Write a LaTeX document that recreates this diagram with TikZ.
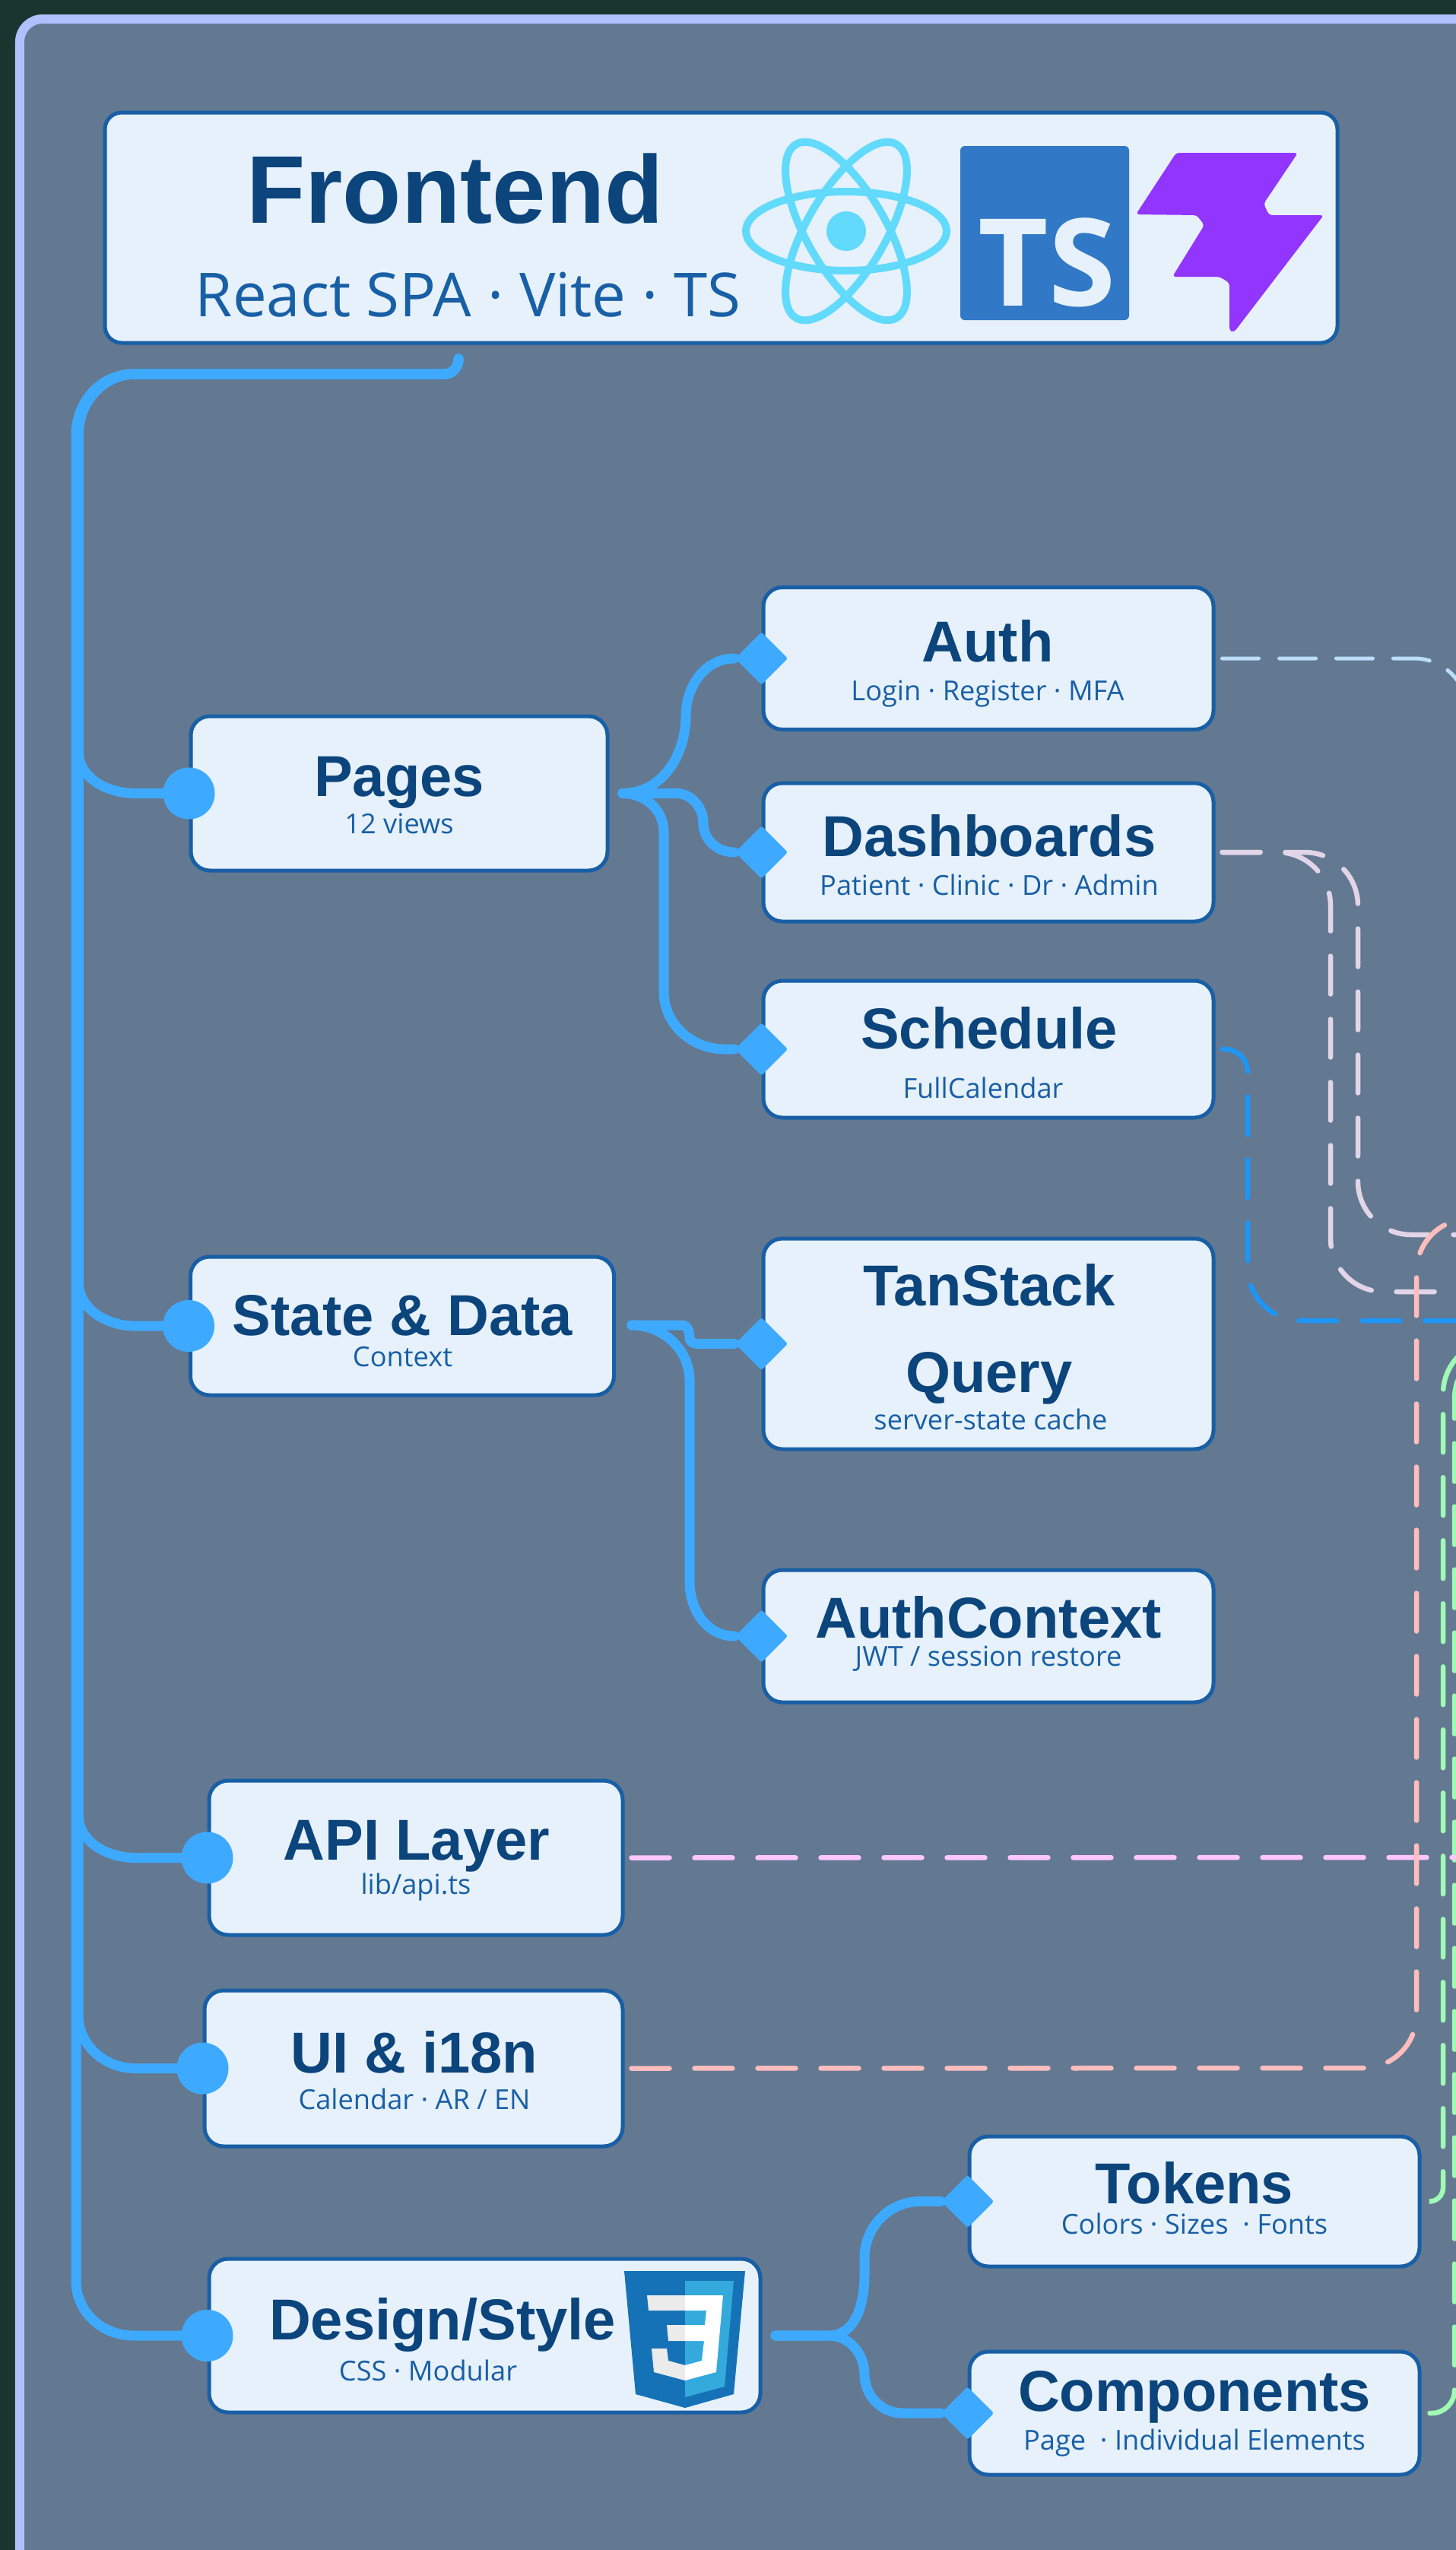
\documentclass[tikz,border=0pt]{standalone}
\usepackage{fontspec}
\setmainfont{Open Sans}
\newfontfamily\titlefont{Liberation Sans}
\usetikzlibrary{shapes.geometric}

\definecolor{pagebg}{HTML}{1A3530}
\definecolor{panelbg}{HTML}{637891}
\definecolor{panelrim}{HTML}{B0C0FF}
\definecolor{cardbg}{HTML}{E6F1FB}
\definecolor{cardrim}{HTML}{185FA5}
\definecolor{titleink}{HTML}{0C447C}
\definecolor{limbblue}{HTML}{3EAAFF}
\definecolor{reactcyan}{HTML}{61DAFB}
\definecolor{tsblue}{HTML}{3178C6}
\definecolor{vitepurple}{HTML}{9135FF}
\definecolor{cssdark}{HTML}{1572B6}
\definecolor{csslight}{HTML}{33A9DC}
\definecolor{cssgrey}{HTML}{EBEBEB}
\definecolor{linkauth}{HTML}{BBDEFB}
\definecolor{linkdash}{HTML}{E1D5E7}
\definecolor{linksched}{HTML}{1E96F5}
\definecolor{linkapi}{HTML}{FFC6FF}
\definecolor{linkui}{HTML}{FFBDBD}
\definecolor{linkgreen}{HTML}{A0FAB4}

\begin{document}
\begin{tikzpicture}[
        card/.style={rectangle, draw=cardrim, fill=cardbg, line width=0.05cm, inner sep=0pt, rounded corners=0.25cm},
        bulb/.style={circle, fill=limbblue, inner sep=0pt, minimum size=0.68cm},
        kite/.style={diamond, fill=limbblue, inner sep=0pt, minimum size=0.7cm, rounded corners=0.03cm},
        limb/.style={draw=limbblue, line width=0.13cm, line cap=round},
        link/.style={line width=0.065cm, line cap=round, rounded corners=0.7cm, dash pattern=on 0.5cm off 0.33cm},
        cardtitle/.style={anchor=base, inner sep=0pt, text=titleink, font=\titlefont\fontsize{21.6pt}{26pt}\selectfont\bfseries},
        cardsub/.style={anchor=base, inner sep=0pt, text=cardrim, font=\fontsize{10.3pt}{12pt}\selectfont},
        ring/.style={draw=reactcyan, line width=0.1cm}
    ]
        \useasboundingbox (0,0) rectangle (19.15,-33.54);
        \fill[pagebg] (0,0) rectangle (19.15,-33.54);
        \draw[panelrim, fill=panelbg, line width=0.12cm, rounded corners=0.3cm] (0.26,-0.25) rectangle (21,-36);

        % ========== CARDS ==========
        \node[card, rounded corners=0.22cm, minimum width=16.21cm, minimum height=3.03cm] (frontend) at (9.485,-2.995) {};
        \node[card, minimum width=5.48cm, minimum height=2.03cm] (pages) at (5.25,-10.435) {};
        \node[card, minimum width=5.57cm, minimum height=1.82cm] (state) at (5.29,-17.44) {};
        \node[card, minimum width=5.44cm, minimum height=2.03cm] (api) at (5.47,-24.435) {};
        \node[card, minimum width=5.5cm, minimum height=2.05cm] (ui) at (5.44,-27.205) {};
        \node[card, minimum width=7.25cm, minimum height=2.02cm] (design) at (6.375,-30.72) {};
        \node[card, minimum width=5.92cm, minimum height=1.87cm] (auth) at (13.0,-8.66) {};
        \node[card, minimum width=5.92cm, minimum height=1.82cm] (dash) at (13.0,-11.21) {};
        \node[card, minimum width=5.92cm, minimum height=1.8cm] (sched) at (13.0,-13.8) {};
        \node[card, minimum width=5.92cm, minimum height=2.77cm] (tanstack) at (13.0,-17.675) {};
        \node[card, minimum width=5.92cm, minimum height=1.74cm] (authctx) at (13.0,-21.52) {};
        \node[card, minimum width=5.92cm, minimum height=1.71cm] (tokens) at (15.71,-28.955) {};
        \node[card, minimum width=5.92cm, minimum height=1.62cm] (comps) at (15.71,-31.74) {};

        % ========== HEADER TEXT AND LOGOS ==========
        \node[cardtitle, font=\titlefont\fontsize{36pt}{44pt}\selectfont\bfseries] (frontendT) at (5.985,-2.93) {Frontend};
        \node[cardsub, font=\fontsize{22.7pt}{26pt}\selectfont] (frontendS) at (6.155,-4.16) {React SPA · Vite · TS};
        % React
        \draw[ring] (11.13,-3.04) ellipse [x radius=1.32, y radius=0.52];
        \draw[ring, rotate around={60:(11.13,-3.04)}] (11.13,-3.04) ellipse [x radius=1.32, y radius=0.52];
        \draw[ring, rotate around={120:(11.13,-3.04)}] (11.13,-3.04) ellipse [x radius=1.32, y radius=0.52];
        \fill[reactcyan] (11.13,-3.04) circle (0.26);
        % TypeScript
        \fill[tsblue, rounded corners=0.06cm] (12.63,-1.92) rectangle (14.85,-4.21);
        \node[anchor=base, inner sep=0pt, text=cardbg, font=\fontsize{45.5pt}{50pt}\selectfont\bfseries] (tsT) at (13.77,-4.02) {TS};
        % Vite
        \fill[vitepurple, rounded corners=0.04cm] (15.47,-2.01) -- (17.07,-2.01) -- (16.62,-2.68) -- (16.69,-2.83) -- (17.41,-2.83) -- (16.23,-4.37) -- (16.17,-4.35) -- (16.17,-3.72) -- (16.04,-3.64) -- (15.42,-3.64) -- (15.84,-2.96) -- (15.74,-2.83) -- (14.94,-2.82) -- cycle;

        % ========== CARD TEXTS ==========
        \node[cardtitle] (pagesT) at (5.25,-10.47) {Pages};
        \node[cardsub] (pagesS) at (5.25,-10.96) {12 views};
        \node[cardtitle] (stateT) at (5.295,-17.56) {State \& Data};
        \node[cardsub] (stateS) at (5.295,-17.97) {Context};
        \node[cardtitle] (apiT) at (5.48,-24.46) {API Layer};
        \node[cardsub] (apiS) at (5.47,-24.91) {lib/api.ts};
        \node[cardtitle] (uiT) at (5.45,-27.26) {UI \& i18n};
        \node[cardsub] (uiS) at (5.45,-27.74) {Calendar · AR / EN};
        \node[cardtitle] (designT) at (5.82,-30.77) {Design/Style};
        \node[cardsub] (designS) at (5.63,-31.31) {CSS · Modular};
        \node[cardtitle] (authT) at (12.99,-8.7) {Auth};
        \node[cardsub] (authS) at (12.99,-9.21) {Login · Register · MFA};
        \node[cardtitle] (dashT) at (13.01,-11.26) {Dashboards};
        \node[cardsub] (dashS) at (13.01,-11.77) {Patient · Clinic · Dr · Admin};
        \node[cardtitle] (schedT) at (13.01,-13.79) {Schedule};
        \node[cardsub] (schedS) at (12.93,-14.44) {FullCalendar};
        \node[cardtitle] (tanstackT) at (13.01,-17.17) {TanStack};
        \node[cardtitle] (queryT) at (13.01,-18.31) {Query};
        \node[cardsub] (tanstackS) at (13.03,-18.8) {server-state cache};
        \node[cardtitle] (authctxT) at (13.0,-21.54) {AuthContext};
        \node[cardsub] (authctxS) at (13.0,-21.91) {JWT / session restore};
        \node[cardtitle] (tokensT) at (15.71,-28.98) {Tokens};
        \node[cardsub] (tokensS) at (15.71,-29.38) {Colors · Sizes \ · Fonts};
        \node[cardtitle] (compsT) at (15.71,-31.71) {Components};
        \node[cardsub] (compsS) at (15.71,-32.22) {Page \ · Individual Elements};

        % ========== CSS3 BADGE ==========
        \fill[cssdark] (8.21,-29.87) -- (9.8,-29.87) -- (9.65,-31.49) -- (9.01,-31.67) -- (8.36,-31.49) -- cycle;
        \fill[csslight] (9.01,-30) -- (9.65,-30) -- (9.53,-31.39) -- (9.01,-31.53) -- cycle;
        \fill[cssgrey] (8.51,-30.19) -- (9.01,-30.19) -- (9.01,-30.39) -- (8.53,-30.39) -- cycle;
        \fill[cssgrey] (8.77,-30.58) -- (9.01,-30.58) -- (9.01,-30.79) -- (8.79,-30.79) -- cycle;
        \fill[cssgrey] (8.57,-30.89) -- (8.77,-30.89) -- (8.79,-31.05) -- (9.01,-31.11) -- (9.01,-31.31) -- (8.6,-31.2) -- cycle;
        \fill[white] (9.01,-30.19) -- (9.51,-30.19) -- (9.42,-31.2) -- (9.01,-31.31) -- (9.01,-31.11) -- (9.23,-31.05) -- (9.26,-30.79) -- (9.01,-30.79) -- (9.01,-30.58) -- (9.27,-30.58) -- (9.29,-30.39) -- (9.01,-30.39) -- cycle;

        % ========== TIPS ==========
        \node[bulb] (pagesDot) at (pages.west) {};
        \node[bulb] (stateDot) at (state.west) {};
        \node[bulb] (apiDot) at (api.west) {};
        \node[bulb] (uiDot) at (ui.west) {};
        \node[bulb] (designDot) at (design.west) {};
        \node[kite] (authTip) at (auth.west) {};
        \node[kite] (dashTip) at (dash.west) {};
        \node[kite] (schedTip) at (sched.west) {};
        \node[kite] (tanstackTip) at (tanstack.west) {};
        \node[kite] (authctxTip) at (authctx.west) {};
        \node[kite] (tokensTip) at (tokens.west) {};
        \node[kite] (compsTip) at (comps.west) {};

        % ========== TRUNK ==========
        \coordinate (hook) at (6.03,-4.72);
        \draw[limb] (hook) to[out=270, in=0] (5.85,-4.92) -- (1.75,-4.92) to[out=180, in=90] (1.0,-5.72) -- (1.0,-30.0) to[out=270, in=180] (1.75,-30.72) -- (designDot);
        \draw[limb] (hook) to[out=270, in=0] (5.85,-4.92) -- (1.78,-4.92) to[out=180, in=90] (1.03,-5.72) -- (1.03,-9.87) to[out=270, in=180] (1.78,-10.435) -- (pagesDot);
        \draw[limb] (hook) to[out=270, in=0] (5.85,-4.92) -- (1.78,-4.92) to[out=180, in=90] (1.03,-5.72) -- (1.03,-16.85) to[out=270, in=180] (1.78,-17.44) -- (stateDot);
        \draw[limb] (hook) to[out=270, in=0] (5.85,-4.92) -- (1.78,-4.92) to[out=180, in=90] (1.03,-5.72) -- (1.03,-23.86) to[out=270, in=180] (1.78,-24.435) -- (apiDot);
        \draw[limb] (hook) to[out=270, in=0] (5.85,-4.92) -- (1.78,-4.92) to[out=180, in=90] (1.03,-5.72) -- (1.03,-26.5) to[out=270, in=180] (1.78,-27.205) -- (uiDot);

        % ========== BRANCHES ==========
        \coordinate (pagesOut) at (8.19,-10.435);
        \coordinate (stateOut) at (8.31,-17.43);
        \coordinate (designOut) at (10.2,-30.72);
        \draw[limb] (pagesOut) to[out=0, in=270] (9.02,-9.42) to[out=90, in=180] (authTip);
        \draw[limb] (pagesOut) -- (8.89,-10.435) to[out=0, in=90] (9.25,-10.83) to[out=270, in=180] (dashTip);
        \draw[limb] (pagesOut) to[out=0, in=90] (8.73,-10.94) -- (8.73,-13.04) to[out=270, in=180] (9.53,-13.8) -- (schedTip);
        \draw[limb] (stateOut) -- (8.97,-17.43) to[out=0, in=90] (9.07,-17.6) to[out=270, in=180] (9.18,-17.675) -- (tanstackTip);
        \draw[limb] (stateOut) to[out=0, in=90] (9.07,-18.16) -- (9.07,-20.81) to[out=270, in=180] (authctxTip);
        \draw[limb] (designOut) -- (10.9,-30.72) to[out=0, in=270] (11.37,-29.93) -- (11.37,-29.7) to[out=90, in=180] (12.1,-28.955) -- (tokensTip);
        \draw[limb] (designOut) -- (10.9,-30.72) to[out=0, in=90] (11.37,-31.23) to[out=270, in=180] (11.87,-31.74) -- (compsTip);

        % ========== DASHED LINKS ==========
        \coordinate (authEnd) at (19.3,-9.6);
        \coordinate (dashEndA) at (19.8,-16.99);
        \coordinate (dashEndB) at (19.8,-16.24);
        \coordinate (schedEnd) at (19.8,-17.37);
        \coordinate (apiEnd) at (19.8,-24.43);
        \coordinate (uiEnd) at (19.8,-16.03);
        \coordinate (tokensEnd) at (19.8,-17.63);
        \coordinate (compsEnd) at (19.8,-17.7);
        \draw[link, linkauth, line width=0.05cm, dash pattern=on 0.48cm off 0.27cm] ([xshift=0.09cm]auth.east) -- (19.3,-8.66) -- (authEnd);
        \draw[link, linkdash] ([xshift=0.09cm]dash.east) -- (17.5,-11.21) -- (17.5,-16.99) -- (dashEndA);
        \draw[link, linkdash] ([xshift=0.09cm]dash.east) -- (17.86,-11.21) -- (17.86,-16.24) -- (dashEndB);
        % short first bends have a smaller radius
        \draw[link, linksched, rounded corners=0.3cm] ([xshift=0.09cm]sched.east) -- (16.41,-13.8) [rounded corners=0.7cm] -- (16.41,-17.37) -- (schedEnd);
        \draw[link, linkgreen, rounded corners=0.18cm] ([xshift=0.11cm]tokens.east) -- (18.98,-28.955) [rounded corners=0.7cm] -- (18.98,-17.63) -- (tokensEnd);
        \draw[link, linkgreen, rounded corners=0.3cm] ([xshift=0.11cm]comps.east) -- (19.13,-31.74) [rounded corners=0.7cm] -- (19.13,-17.7) -- (compsEnd);
        \draw[link, linkapi] ([xshift=0.09cm]api.east) -- (apiEnd);
        \draw[link, linkui] ([xshift=0.09cm]ui.east) -- (18.63,-27.2) -- (18.63,-16.03) -- (uiEnd);
\end{tikzpicture}
\end{document}
